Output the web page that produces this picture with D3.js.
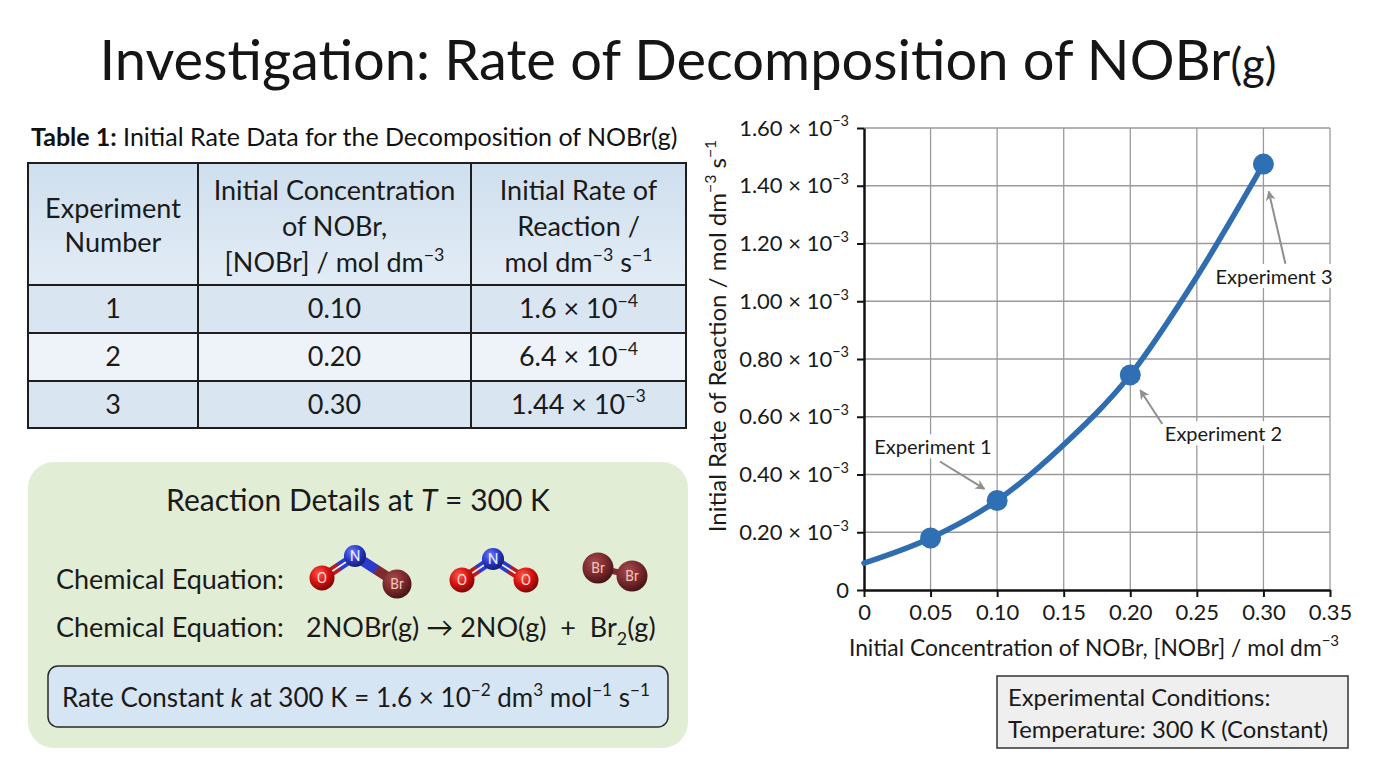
<!DOCTYPE html>
<html>
<head>
<meta charset="utf-8">
<script src="https://cdn.jsdelivr.net/npm/d3@7"></script>
<style>
  body { margin: 0; background: #fff; }
  svg { display: block; font-family: Lato, "Open Sans", sans-serif; }
</style>
</head>
<body>
<svg id="chart" width="1376" height="768"></svg>
<script>
// ---- data ----
var experiments = ["1", "2", "3"];
var concentrations = ["0.10", "0.20", "0.30"];
var rateMantissa = ["1.6", "6.4", "1.44"];
var rateExponent = ["−4", "−4", "−3"];

// points plotted on the graph (rate in units of 10^-3)
var pointConc = [0.05, 0.10, 0.20, 0.30];
var pointRate = [0.18, 0.31, 0.745, 1.475];

// fitted curve as drawn
var curveConc = [0, 0.05, 0.10, 0.15, 0.20, 0.25, 0.30];
var curveRate = [0.093, 0.18, 0.31, 0.503, 0.745, 1.085, 1.475];

var xTicks = [0, 0.05, 0.10, 0.15, 0.20, 0.25, 0.30, 0.35];
var yTicks = [0, 0.20, 0.40, 0.60, 0.80, 1.00, 1.20, 1.40, 1.60];

var annotations = [
    {label: "Experiment 1", lx: 0.0518, ly: 0.47, from: [0.0570, 0.445], to: [0.0905, 0.350]},
    {label: "Experiment 2", lx: 0.2700, ly: 0.515, from: [0.2240, 0.575], to: [0.2075, 0.692]},
    {label: "Experiment 3", lx: 0.3080, ly: 1.06, from: [0.3165, 1.130], to: [0.3040, 1.380]}
];

var svg = d3.select('#chart');

// text with superscripts / subscripts / italics
function rich(sel, parts, fs) {
    var shift = 0;
    parts.forEach(function(p) {
        var txt = typeof p === 'string' ? p : p[0];
        var kind = typeof p === 'string' ? null : p[1];
        var target = kind === 'sup' ? -0.42 : (kind === 'sub' ? 0.28 : 0);
        var t = sel.append('tspan').text(txt);
        var dy = (target - shift) * fs;
        if (dy !== 0) t.attr('dy', dy);
        shift = target;
        if (kind === 'sup' || kind === 'sub') t.attr('font-size', fs * 0.66);
        if (kind === 'it') t.attr('font-style', 'italic');
        if (kind === 'b') t.attr('font-weight', 'bold');
        if (kind === 'small') t.attr('font-size', fs * 0.78);
    });
    return sel;
}

var defs = svg.append('defs');

// ---- title ----
rich(svg.append('text')
    .attr('x', 688).attr('y', 80)
    .attr('text-anchor', 'middle')
    .attr('font-size', 56)
    .attr('fill', '#151515'),
    ["Investigation: Rate of Decomposition of NOBr", ["(g)", 'small']], 56);

// ---- table ----
var colEdges = [28, 198, 471, 686];
var rowEdges = [163, 285, 333, 381, 428];
var rowFills = ['#d9e6f2', '#eef3f9', '#d9e6f2'];

var hg = defs.append('linearGradient').attr('id', 'headGrad')
    .attr('x1', 0).attr('y1', 0).attr('x2', 0).attr('y2', 1);
hg.append('stop').attr('offset', '0%').attr('stop-color', '#cfdfee');
hg.append('stop').attr('offset', '100%').attr('stop-color', '#e2ecf6');

rich(svg.append('text').attr('x', 31).attr('y', 146)
    .attr('font-size', 25).attr('fill', '#111'),
    [["Table 1:", 'b'], " Initial Rate Data for the Decomposition of NOBr(g)"], 25);

var table = svg.append('g').attr('class', 'table');

table.append('rect')
    .attr('x', colEdges[0]).attr('y', rowEdges[0])
    .attr('width', colEdges[3] - colEdges[0])
    .attr('height', rowEdges[1] - rowEdges[0])
    .attr('fill', 'url(#headGrad)');

table.selectAll('.row')
    .data(experiments)
    .enter().append('rect')
    .attr('class', 'row')
    .attr('x', colEdges[0])
    .attr('y', function(d, i) { return rowEdges[i + 1]; })
    .attr('width', colEdges[3] - colEdges[0])
    .attr('height', function(d, i) { return rowEdges[i + 2] - rowEdges[i + 1]; })
    .attr('fill', function(d, i) { return rowFills[i]; });

// grid lines of the table
rowEdges.forEach(function(y) {
    table.append('line').attr('x1', colEdges[0] - 1).attr('x2', colEdges[3] + 1)
        .attr('y1', y).attr('y2', y).attr('stroke', '#1e1e1e').attr('stroke-width', 2);
});
colEdges.forEach(function(x) {
    table.append('line').attr('x1', x).attr('x2', x)
        .attr('y1', rowEdges[0]).attr('y2', rowEdges[4]).attr('stroke', '#1e1e1e').attr('stroke-width', 2);
});

var headers = [
    {lines: [["Experiment"], ["Number"]], y0: 218},
    {lines: [["Initial Concentration"], ["of NOBr,"], ["[NOBr] / mol dm", ["−3", 'sup']]], y0: 200},
    {lines: [["Initial Rate of"], ["Reaction /"], ["mol dm", ["−3", 'sup'], " s", ["−1", 'sup']]], y0: 200}
];
headers.forEach(function(h, c) {
    var cx = (colEdges[c] + colEdges[c + 1]) / 2;
    h.lines.forEach(function(line, k) {
        rich(table.append('text')
            .attr('x', cx).attr('y', h.y0 + k * (c === 0 ? 34 : 36))
            .attr('text-anchor', 'middle')
            .attr('font-size', 27).attr('fill', '#1a1a1a'), line, 27);
    });
});

experiments.forEach(function(e, i) {
    var yb = (rowEdges[i + 1] + rowEdges[i + 2]) / 2 + 9;
    var cells = [[e], [concentrations[i]], [rateMantissa[i] + " × 10", [rateExponent[i], 'sup']]];
    cells.forEach(function(cell, c) {
        rich(table.append('text')
            .attr('x', (colEdges[c] + colEdges[c + 1]) / 2).attr('y', yb)
            .attr('text-anchor', 'middle')
            .attr('font-size', 27).attr('fill', '#1a1a1a'), cell, 27);
    });
});

// ---- reaction details panel ----
var panel = svg.append('g');
panel.append('rect')
    .attr('x', 28).attr('y', 462).attr('width', 660).attr('height', 286)
    .attr('rx', 26).attr('fill', '#e2edd5');

rich(panel.append('text').attr('x', 358).attr('y', 511)
    .attr('text-anchor', 'middle').attr('font-size', 30).attr('fill', '#1a1a1a'),
    ["Reaction Details at ", ["T", 'it'], " = 300 K"], 30);

panel.append('text').attr('x', 56).attr('y', 589)
    .attr('font-size', 27).attr('fill', '#1a1a1a').text("Chemical Equation:");
panel.append('text').attr('x', 56).attr('y', 637)
    .attr('font-size', 27).attr('fill', '#1a1a1a').text("Chemical Equation:");
rich(panel.append('text').attr('x', 306).attr('y', 637)
    .attr('font-size', 27).attr('fill', '#1a1a1a').attr('xml:space', 'preserve'),
    ["2NOBr(g) → 2NO(g)  +  Br", ["2", 'sub'], "(g)"], 27);

panel.append('rect')
    .attr('x', 48).attr('y', 666).attr('width', 620).attr('height', 61)
    .attr('rx', 10).attr('fill', '#d6e5f3').attr('stroke', '#2a2a2a').attr('stroke-width', 1.5);
rich(panel.append('text').attr('x', 62).attr('y', 707)
    .attr('font-size', 26).attr('fill', '#1a1a1a'),
    ["Rate Constant ", ["k", 'it'], " at 300 K = 1.6 × 10", ["−2", 'sup'], " dm", ["3", 'sup'],
     " mol", ["−1", 'sup'], " s", ["−1", 'sup']], 26);

// ---- ball-and-stick molecules ----
function atomGrad(id, light, base, dark) {
    var g = defs.append('radialGradient').attr('id', id)
        .attr('cx', '38%').attr('cy', '32%').attr('r', '70%');
    g.append('stop').attr('offset', '0%').attr('stop-color', light);
    g.append('stop').attr('offset', '55%').attr('stop-color', base);
    g.append('stop').attr('offset', '100%').attr('stop-color', dark);
}
atomGrad('gO', '#ff5a4a', '#d41010', '#7a0606');
atomGrad('gN', '#6f7dff', '#2838c8', '#141c70');
atomGrad('gBr', '#a54a50', '#7c2a2e', '#451417');

var mol = panel.append('g');
function bond(a, b, w, c1, c2, dbl) {
    var id = 'b' + Math.round(a[0]) + '_' + Math.round(b[0]);
    var g = defs.append('linearGradient').attr('id', id)
        .attr('gradientUnits', 'userSpaceOnUse')
        .attr('x1', a[0]).attr('y1', a[1]).attr('x2', b[0]).attr('y2', b[1]);
    g.append('stop').attr('offset', '45%').attr('stop-color', c1);
    g.append('stop').attr('offset', '55%').attr('stop-color', c2);
    mol.append('line').attr('x1', a[0]).attr('y1', a[1]).attr('x2', b[0]).attr('y2', b[1])
        .attr('stroke', 'url(#' + id + ')').attr('stroke-width', w);
    if (dbl) {
        mol.append('line').attr('x1', a[0]).attr('y1', a[1]).attr('x2', b[0]).attr('y2', b[1])
            .attr('stroke', '#f4f4f4').attr('stroke-width', 1.6);
    }
}
function atom(p, r, grad, label, col, fs) {
    mol.append('circle').attr('cx', p[0]).attr('cy', p[1]).attr('r', r).attr('fill', 'url(#' + grad + ')');
    mol.append('text').attr('x', p[0]).attr('y', p[1] + fs * 0.36).attr('text-anchor', 'middle')
        .attr('font-family', 'Roboto, sans-serif')
        .attr('font-size', fs).attr('fill', col).text(label);
}
// NOBr
bond([322, 578], [355, 556], 9, '#c01818', '#2b3bd0', true);
bond([355, 556], [397, 583], 10, '#2b3bd0', '#7e2a2e', false);
atom([322, 578], 12.5, 'gO', 'O', '#ffd6d0', 15);
atom([355, 556], 11, 'gN', 'N', '#e8ecff', 15);
atom([397, 584], 14.5, 'gBr', 'Br', '#f1c7b4', 14);
// NO2
bond([462, 580], [493, 559], 9, '#c01818', '#2b3bd0', true);
bond([493, 559], [526, 580], 9, '#2b3bd0', '#c01818', true);
atom([462, 580], 12.5, 'gO', 'O', '#ffd6d0', 15);
atom([493, 559], 11, 'gN', 'N', '#e8ecff', 15);
atom([526, 580], 12.5, 'gO', 'O', '#ffd6d0', 15);
// Br2
bond([598, 568], [631, 575], 6, '#7e2a2e', '#7e2a2e', false);
atom([598, 568], 15.5, 'gBr', 'Br', '#f1c7b4', 14);
atom([632, 576], 15.5, 'gBr', 'Br', '#f1c7b4', 14);

// ---- graph ----
var xScale = d3.scaleLinear().domain([0, 0.35]).range([864, 1330]);
var yScale = d3.scaleLinear().domain([0, 1.6]).range([590, 128]);

var grid = svg.append('g').attr('stroke', '#9a9a9a').attr('stroke-width', 1.3);
xTicks.slice(1).forEach(function(t) {
    grid.append('line').attr('x1', xScale(t)).attr('x2', xScale(t))
        .attr('y1', yScale(1.6)).attr('y2', yScale(0));
});
yTicks.slice(1).forEach(function(t) {
    grid.append('line').attr('x1', xScale(0)).attr('x2', xScale(0.35))
        .attr('y1', yScale(t)).attr('y2', yScale(t));
});

var xAxis = svg.append('g')
    .attr('transform', 'translate(0,' + yScale(0) + ')')
    .call(d3.axisBottom(xScale).tickValues(xTicks).tickSizeInner(7).tickSizeOuter(0).tickPadding(7)
        .tickFormat(function(d) { return d === 0 ? "0" : d3.format('.2f')(d); }));
xAxis.selectAll('text').attr('font-size', 22).attr('fill', '#1a1a1a').attr('font-family', 'Lato, sans-serif');

var yAxis = svg.append('g')
    .attr('transform', 'translate(' + xScale(0) + ',0)')
    .call(d3.axisLeft(yScale).tickValues(yTicks).tickSizeInner(7).tickSizeOuter(0).tickPadding(8)
        .tickFormat(function() { return ""; }));
yAxis.selectAll('.tick text').each(function(d) {
    var t = d3.select(this).attr('font-size', 22).attr('fill', '#1a1a1a').attr('font-family', 'Lato, sans-serif');
    if (d === 0) { t.text("0"); return; }
    rich(t, [d3.format('.2f')(d) + " × 10", ["−3", 'sup']], 22);
});
[xAxis, yAxis].forEach(function(a) {
    a.select('.domain').attr('stroke', '#111').attr('stroke-width', 2.5);
    a.selectAll('.tick line').attr('stroke', '#111').attr('stroke-width', 2);
});

rich(svg.append('text')
    .attr('transform', 'translate(726,336) rotate(-90)')
    .attr('text-anchor', 'middle').attr('font-size', 24).attr('fill', '#1a1a1a'),
    ["Initial Rate of Reaction / mol dm", ["−3", 'sup'], " s", ["−1", 'sup']], 24);

rich(svg.append('text')
    .attr('x', 1094).attr('y', 656)
    .attr('text-anchor', 'middle').attr('font-size', 22.8).attr('fill', '#1a1a1a'),
    ["Initial Concentration of NOBr, [NOBr] / mol dm", ["−3", 'sup']], 22.8);

var line = d3.line()
    .x(function(d, i) { return xScale(curveConc[i]); })
    .y(function(d) { return yScale(d); })
    .curve(d3.curveMonotoneX);

svg.append('path')
    .datum(curveRate)
    .attr('d', line)
    .attr('fill', 'none')
    .attr('stroke', '#2f6db0')
    .attr('stroke-width', 5.5)
    .attr('stroke-linecap', 'round');

svg.selectAll('.pt')
    .data(pointRate)
    .enter().append('circle')
    .attr('class', 'pt')
    .attr('cx', function(d, i) { return xScale(pointConc[i]); })
    .attr('cy', function(d) { return yScale(d); })
    .attr('r', 10.5)
    .attr('fill', '#2f6fb3');

// annotations
defs.append('marker').attr('id', 'arrow')
    .attr('viewBox', '0 0 10 10').attr('refX', 9).attr('refY', 5)
    .attr('markerWidth', 10).attr('markerHeight', 10).attr('markerUnits', 'userSpaceOnUse')
    .attr('orient', 'auto')
    .append('path').attr('d', 'M0,0 L10,5 L0,10 L3,5 Z').attr('fill', '#8f8f8f');

var ann = svg.selectAll('.ann').data(annotations).enter().append('g').attr('class', 'ann');
ann.each(function(a) {
    var g = d3.select(this);
    var t = g.append('text')
        .attr('x', xScale(a.lx)).attr('y', yScale(a.ly))
        .attr('text-anchor', 'middle').attr('font-size', 20).attr('fill', '#1a1a1a')
        .text(a.label);
    var bb = t.node().getBBox();
    g.insert('rect', 'text')
        .attr('x', bb.x - 3).attr('y', bb.y).attr('width', bb.width + 6).attr('height', bb.height)
        .attr('fill', '#fff');
    g.append('line')
        .attr('x1', xScale(a.from[0])).attr('y1', yScale(a.from[1]))
        .attr('x2', xScale(a.to[0])).attr('y2', yScale(a.to[1]))
        .attr('stroke', '#8f8f8f').attr('stroke-width', 2)
        .attr('marker-end', 'url(#arrow)');
});

// conditions box
svg.append('rect')
    .attr('x', 997).attr('y', 676).attr('width', 351).attr('height', 72)
    .attr('fill', '#efefef').attr('stroke', '#333').attr('stroke-width', 1.5);
svg.append('text').attr('x', 1008).attr('y', 706)
    .attr('font-size', 23.8).attr('fill', '#1a1a1a').text("Experimental Conditions:");
svg.append('text').attr('x', 1008).attr('y', 738)
    .attr('font-size', 23.8).attr('fill', '#1a1a1a').text("Temperature: 300 K (Constant)");
</script>
</body>
</html>
